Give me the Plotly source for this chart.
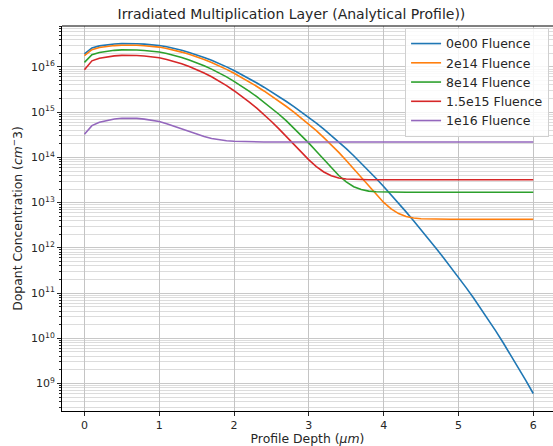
import plotly.graph_objects as go

# Profile depth (um)
depth_um = [0.0, 0.1, 0.2, 0.3, 0.4, 0.5, 0.6, 0.7, 0.8, 0.9, 1.0,
            1.1, 1.2, 1.3, 1.4, 1.5, 1.6, 1.7, 1.8, 1.9, 2.0,
            2.1, 2.2, 2.3, 2.4, 2.5, 2.6, 2.7, 2.8, 2.9, 3.0,
            3.1, 3.2, 3.3, 3.4, 3.5, 3.6, 3.7, 3.8, 3.9, 4.0,
            4.1, 4.2, 4.3, 4.4, 4.5, 4.6, 4.7, 4.8, 4.9, 5.0,
            5.1, 5.2, 5.3, 5.4, 5.5, 5.6, 5.7, 5.8, 5.9, 6.0]

# Dopant concentration, read as log10(cm^-3) exponents
log10_0e00 = [16.29, 16.42, 16.465, 16.49, 16.507, 16.516, 16.518, 16.514, 16.505, 16.492, 16.475,
              16.445, 16.410, 16.368, 16.321, 16.269, 16.210, 16.146, 16.077, 16.001, 15.920,
              15.834, 15.744, 15.650, 15.552, 15.451, 15.345, 15.235, 15.121, 15.004, 14.882,
              14.756, 14.623, 14.485, 14.341, 14.192, 14.036, 13.875, 13.708, 13.535, 13.357,
              13.174, 12.986, 12.795, 12.600, 12.402, 12.199, 11.993, 11.782, 11.568, 11.350,
              11.126, 10.895, 10.657, 10.411, 10.158, 9.897, 9.629, 9.353, 9.070, 8.780]

log10_2e14 = [16.25, 16.382, 16.429, 16.454, 16.472, 16.481, 16.483, 16.479, 16.470, 16.456, 16.439,
              16.408, 16.372, 16.328, 16.280, 16.226, 16.164, 16.097, 16.025, 15.946, 15.861,
              15.770, 15.674, 15.574, 15.469, 15.360, 15.245, 15.125, 14.999, 14.869, 14.734,
              14.592, 14.438, 14.279, 14.110, 13.933, 13.747, 13.557, 13.363, 13.176, 13.004,
              12.862, 12.758, 12.694, 12.660, 12.643, 12.637, 12.635, 12.634, 12.633, 12.633,
              12.633, 12.633, 12.633, 12.633, 12.633, 12.633, 12.633, 12.633, 12.633, 12.633]

log10_8e14 = [16.10, 16.268, 16.319, 16.347, 16.367, 16.377, 16.379, 16.374, 16.364, 16.350, 16.330,
              16.296, 16.257, 16.209, 16.155, 16.095, 16.027, 15.952, 15.870, 15.780, 15.682,
              15.577, 15.465, 15.347, 15.221, 15.094, 14.954, 14.807, 14.650, 14.487, 14.315,
              14.137, 13.951, 13.769, 13.600, 13.458, 13.353, 13.288, 13.254, 13.239, 13.233,
              13.231, 13.230, 13.230, 13.230, 13.230, 13.230, 13.230, 13.230, 13.230, 13.230,
              13.230, 13.230, 13.230, 13.230, 13.230, 13.230, 13.230, 13.230, 13.230, 13.230]

log10_1p5e15 = [15.94, 16.135, 16.191, 16.223, 16.244, 16.255, 16.257, 16.252, 16.241, 16.225, 16.204,
                16.166, 16.123, 16.070, 16.010, 15.943, 15.866, 15.782, 15.690, 15.586, 15.474,
                15.358, 15.229, 15.093, 14.947, 14.794, 14.630, 14.460, 14.285, 14.112, 13.945,
                13.797, 13.678, 13.595, 13.546, 13.521, 13.511, 13.507, 13.505, 13.505, 13.505,
                13.505, 13.505, 13.505, 13.505, 13.505, 13.505, 13.505, 13.505, 13.505, 13.505,
                13.505, 13.505, 13.505, 13.505, 13.505, 13.505, 13.505, 13.505, 13.505, 13.505]

log10_1e16 = [14.51, 14.702, 14.775, 14.820, 14.849, 14.866, 14.870, 14.862, 14.846, 14.822, 14.793,
              14.742, 14.687, 14.626, 14.567, 14.510, 14.460, 14.419, 14.389, 14.368, 14.356,
              14.349, 14.345, 14.343, 14.342, 14.342, 14.342, 14.342, 14.342, 14.342, 14.342,
              14.342, 14.342, 14.342, 14.342, 14.342, 14.342, 14.342, 14.342, 14.342, 14.342,
              14.342, 14.342, 14.342, 14.342, 14.342, 14.342, 14.342, 14.342, 14.342, 14.342,
              14.342, 14.342, 14.342, 14.342, 14.342, 14.342, 14.342, 14.342, 14.342, 14.342]

series_names = ["0e00 Fluence", "2e14 Fluence", "8e14 Fluence", "1.5e15 Fluence", "1e16 Fluence"]
series_logs = [log10_0e00, log10_2e14, log10_8e14, log10_1p5e15, log10_1e16]
series_colors = ["#1f77b4", "#ff7f0e", "#2ca02c", "#d62728", "#9467bd"]

y_decades = [9, 10, 11, 12, 13, 14, 15, 16]
x_ticks = [0, 1, 2, 3, 4, 5, 6]

FONT = "DejaVu Sans"
TXT = "#262626"

fig = go.Figure()
for name, logs, color in zip(series_names, series_logs, series_colors):
    fig.add_trace(go.Scatter(
        x=depth_um, y=[10 ** v for v in logs], mode="lines", name=name,
        line=dict(color=color, width=1.6),
    ))

minor_vals = [m * 10 ** d for d in range(8, 17) for m in range(2, 10)]

fig.update_layout(
    width=553, height=446,
    margin=dict(l=62, r=0, t=26, b=35),
    paper_bgcolor="white", plot_bgcolor="white",
    font=dict(family=FONT, size=11, color=TXT),
    title=dict(text="Irradiated Multiplication Layer (Analytical Profile))",
               x=0.527, xref="container", xanchor="center",
               y=1 - 14 / 446, yref="container", yanchor="middle",
               font=dict(family=FONT, size=14, color=TXT)),
    showlegend=True,
    legend=dict(x=0.992, y=0.995, xanchor="right", yanchor="top",
                bgcolor="rgba(255,255,255,0.85)", bordercolor="#d0d0d0", borderwidth=1,
                itemwidth=30,
                font=dict(family=FONT, size=12.5, color=TXT)),
    xaxis=dict(range=[-0.3, 6.264], tickmode="array", tickvals=x_ticks,
               ticktext=[str(v) for v in x_ticks],
               ticks="outside", ticklen=4, tickcolor=TXT,
               showgrid=True, gridcolor="#c4c4c4", gridwidth=1,
               showline=True, linecolor="black", linewidth=1, zeroline=False,
               title=dict(text="Profile Depth (<i>μm</i>)", standoff=4,
                          font=dict(family=FONT, size=12.4, color=TXT))),
    yaxis=dict(type="log", range=[8.393, 16.905], tickmode="array",
               tickvals=[10 ** d for d in y_decades],
               ticktext=["10<sup>%d</sup>" % d for d in y_decades],
               ticks="outside", ticklen=4, tickcolor=TXT,
               showgrid=True, gridcolor="#c8c8c8", gridwidth=1,
               showline=True, linecolor="black", linewidth=1, zeroline=False,
               minor=dict(tickmode="array", tickvals=minor_vals, ticks="outside",
                          ticklen=2, tickcolor=TXT, showgrid=True,
                          gridcolor="#dcdcdc", gridwidth=1),
               title=dict(text="Dopant Concentration (<i>cm</i><sup>−</sup>3)", standoff=5,
                          font=dict(family=FONT, size=12.4, color=TXT))),
    shapes=[dict(type="line", xref="paper", yref="paper", x0=0, x1=1, y0=1, y1=1,
                 line=dict(color="black", width=1))],
)

fig.write_html("out.html")
